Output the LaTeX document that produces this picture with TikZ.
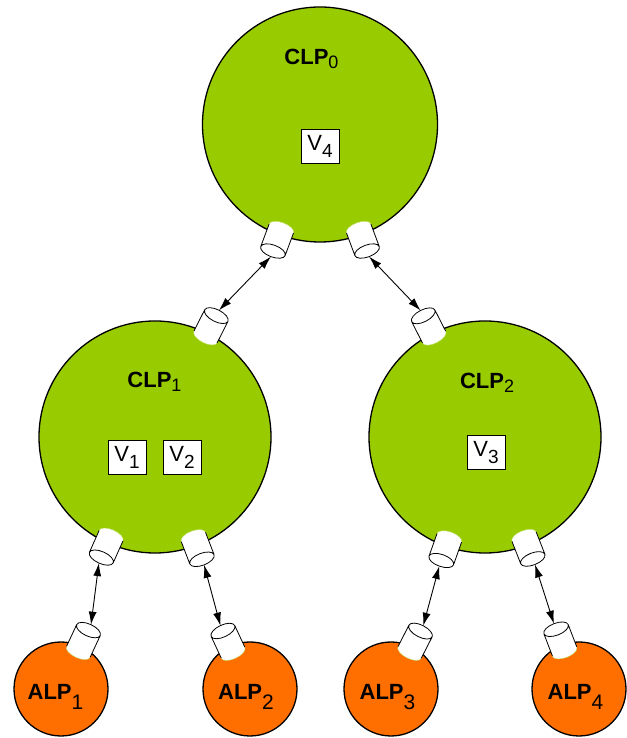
\documentclass[tikz,border=0pt]{standalone}
\usepackage{fontspec}
\setmainfont{Liberation Sans}
\usetikzlibrary{arrows.meta}
\definecolor{clpgreen}{RGB}{153,204,0}
\definecolor{alporange}{RGB}{255,111,0}
\newcommand{\lowsub}[3]{\raisebox{-#1pt}{\fontsize{#2}{#2}\selectfont #3}}
\newcommand{\clplabel}[1]{\textbf{CLP}\lowsub{4}{18}{#1}}
\newcommand{\alplabel}[1]{\textbf{ALP}\lowsub{10}{21}{#1}}
\newcommand{\vlabel}[1]{V\lowsub{7}{19}{#1}}
% port cylinder: name, owner, angle, distance from owner centre
\newcommand{\portcylinder}[4]{%
  \begin{scope}[shift={([shift={(#3:#4)}]#2.center)},rotate=#3]
    \fill[white] (-12,13) -- (12,13) arc[start angle=90,end angle=-90,x radius=6,y radius=13]
      -- (-12,-13) arc[start angle=270,end angle=90,x radius=6,y radius=13] -- cycle;
    \draw[line width=0.8pt] (-12,13) -- (12,13) (-12,-13) -- (12,-13) (12,0) ellipse[x radius=6,y radius=13];
    \draw[line width=0.4pt,clpgreen!60!white] (-12,13) arc[start angle=90,end angle=270,x radius=6,y radius=13];
    \coordinate (#1) at (18,0);
  \end{scope}}

\begin{document}
\begin{tikzpicture}[x=1pt,y=1pt,
  every node/.style={font=\fontsize{22}{22}\selectfont},
  clp/.style={circle,draw,line width=1.3pt,fill=clpgreen,minimum size=232pt,inner sep=0pt},
  alp/.style={circle,draw,line width=1.3pt,fill=alporange,minimum size=94pt,inner sep=0pt},
  vbox/.style={draw,fill=white,line width=0.8pt,minimum width=38pt,minimum height=34pt,inner sep=0pt},
  link/.style={{Latex[length=13pt,width=8pt]}-{Latex[length=13pt,width=8pt]},line width=0.9pt}]
\useasboundingbox (0,0) rectangle (626,738);
% cluster processors
\node[clp,minimum size=235pt] (clp0) at (320,613.5) {};
\node[clp] (clp1) at (155,301) {};
\node[clp] (clp2) at (485,301) {};
% application processors
\node[alp] (alp1) at (61,49) {};
\node[alp] (alp2) at (250,49) {};
\node[alp] (alp3) at (391,49) {};
\node[alp] (alp4) at (579,49) {};
% names
\node[anchor=base] (clp0name) at (311.5,673) {\clplabel{0}};
\node[anchor=base] (clp1name) at (154.5,350) {\clplabel{1}};
\node[anchor=base] (clp2name) at (487,349) {\clplabel{2}};
\node[anchor=base] (alp1name) at (55.5,38) {\alplabel{1}};
\node[anchor=base] (alp2name) at (246,38) {\alplabel{2}};
\node[anchor=base] (alp3name) at (387.5,38) {\alplabel{3}};
\node[anchor=base] (alp4name) at (575.5,38) {\alplabel{4}};
% variables
\node[vbox] (v4) at (320,592) {\vlabel{4}};
\node[vbox] (v1) at (127,280.5) {\vlabel{1}};
\node[vbox] (v2) at (182,280.5) {\vlabel{2}};
\node[vbox] (v3) at (486,285.5) {\vlabel{3}};
% ports
\portcylinder{p0l}{clp0}{-110.4}{123}
\portcylinder{p0r}{clp0}{-69.6}{123}
\portcylinder{p1t}{clp1}{63.2}{124}
\portcylinder{p2t}{clp2}{117}{124}
\portcylinder{p1l}{clp1}{-114}{120}
\portcylinder{p1r}{clp1}{-69}{119}
\portcylinder{p2l}{clp2}{-109.5}{119}
\portcylinder{p2r}{clp2}{-68.6}{119}
\portcylinder{a1}{alp1}{65}{53}
\portcylinder{a2}{alp2}{115}{52}
\portcylinder{a3}{alp3}{63}{53}
\portcylinder{a4}{alp4}{111}{52}
% links
\draw[link] (p0l) -- (p1t);
\draw[link] (p0r) -- (p2t);
\draw[link] (p1l) -- (a1);
\draw[link] (p1r) -- (a2);
\draw[link] (p2l) -- (a3);
\draw[link] (p2r) -- (a4);
\end{tikzpicture}
\end{document}
